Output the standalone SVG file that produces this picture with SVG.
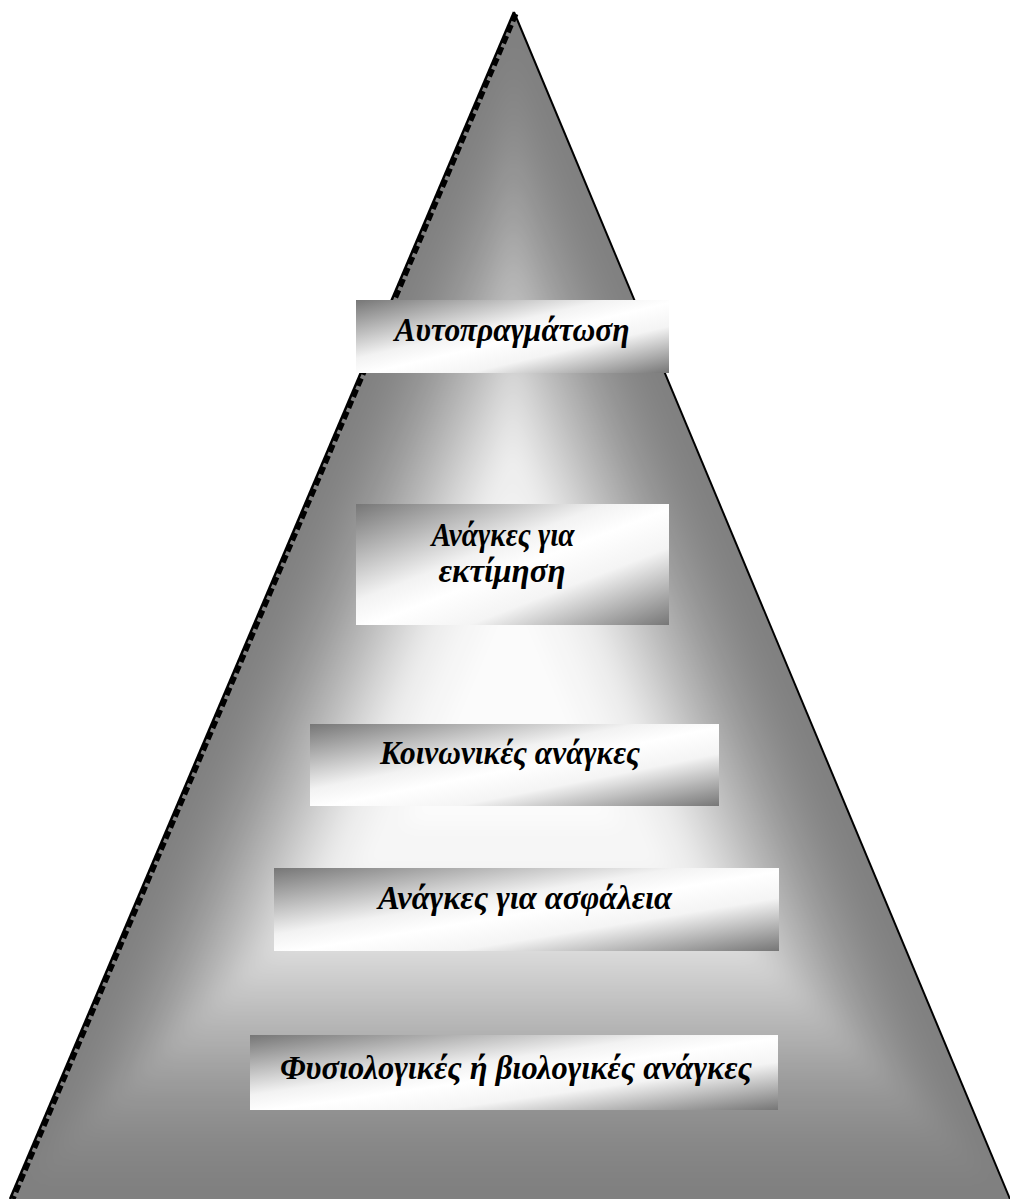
<svg xmlns="http://www.w3.org/2000/svg" xmlns:xlink="http://www.w3.org/1999/xlink" width="1010" height="1199" viewBox="0 0 1010 1199">
<style>
.lbl{font-family:"Liberation Serif","Times New Roman",serif;font-weight:bold;font-style:italic;font-size:33px;fill:#000;text-anchor:middle}
.box{fill:url(#boxGrad)}
</style>
<defs>
<path id="tri" d="M514,12 L10,1199 L1010,1199 Z"/>
<clipPath id="triClip"><use xlink:href="#tri"/></clipPath>
<filter id="soft" x="-10%" y="-10%" width="120%" height="120%"><feGaussianBlur stdDeviation="10"/></filter>
<linearGradient id="boxGrad" x1="0" y1="0" x2="1" y2="1">
<stop offset="0" stop-color="#767676"/>
<stop offset="0.4" stop-color="#f2f2f2"/>
<stop offset="0.52" stop-color="#ffffff"/>
<stop offset="0.68" stop-color="#f4f4f4"/>
<stop offset="1" stop-color="#767676"/>
</linearGradient>
</defs>
<rect width="1010" height="1199" fill="#fff"/>
<g id="pyramid">
<g clip-path="url(#triClip)">
<g filter="url(#soft)">
<rect x="-50" y="-50" width="1110" height="1300" fill="#808080"/>
<use xlink:href="#tri" fill="#848484" transform="translate(512 720) scale(0.95) translate(-512 -720)"/>
<use xlink:href="#tri" fill="#898989" transform="translate(512 720) scale(0.9) translate(-512 -720)"/>
<use xlink:href="#tri" fill="#909090" transform="translate(512 720) scale(0.85) translate(-512 -720)"/>
<use xlink:href="#tri" fill="#989898" transform="translate(512 720) scale(0.8) translate(-512 -720)"/>
<use xlink:href="#tri" fill="#a2a2a2" transform="translate(512 720) scale(0.75) translate(-512 -720)"/>
<use xlink:href="#tri" fill="#adadad" transform="translate(512 720) scale(0.7) translate(-512 -720)"/>
<use xlink:href="#tri" fill="#b8b8b8" transform="translate(512 720) scale(0.65) translate(-512 -720)"/>
<use xlink:href="#tri" fill="#c4c4c4" transform="translate(512 720) scale(0.6) translate(-512 -720)"/>
<use xlink:href="#tri" fill="#d0d0d0" transform="translate(512 720) scale(0.55) translate(-512 -720)"/>
<use xlink:href="#tri" fill="#dcdcdc" transform="translate(512 720) scale(0.5) translate(-512 -720)"/>
<use xlink:href="#tri" fill="#e6e6e6" transform="translate(512 720) scale(0.45) translate(-512 -720)"/>
<use xlink:href="#tri" fill="#efefef" transform="translate(512 720) scale(0.4) translate(-512 -720)"/>
<use xlink:href="#tri" fill="#f6f6f6" transform="translate(512 720) scale(0.32) translate(-512 -720)"/>
<use xlink:href="#tri" fill="#fbfbfb" transform="translate(512 720) scale(0.22) translate(-512 -720)"/>
</g>
</g>
<line x1="514" y1="12" x2="1010" y2="1199" stroke="#000" stroke-width="2"/>
<line x1="516" y1="14" x2="13" y2="1199" stroke="#000" stroke-width="5" stroke-dasharray="8 4"/>
<line x1="514" y1="12" x2="10" y2="1199" stroke="#000" stroke-width="2.5"/>
</g>
<g id="node-self">
<rect class="box" x="356" y="300" width="313" height="73"/>
<text class="lbl" x="512" y="341" textLength="235" lengthAdjust="spacingAndGlyphs">Αυτοπραγμάτωση</text>
</g>
<g id="node-esteem">
<rect class="box" x="356" y="504" width="313" height="121"/>
<text class="lbl" x="503" y="546" textLength="143" lengthAdjust="spacingAndGlyphs">Ανάγκες για</text>
<text class="lbl" x="502" y="582">εκτίμηση</text>
</g>
<g id="node-social">
<rect class="box" x="310" y="724" width="409" height="82"/>
<text class="lbl" x="510" y="764" textLength="260" lengthAdjust="spacingAndGlyphs">Κοινωνικές ανάγκες</text>
</g>
<g id="node-safety">
<rect class="box" x="274" y="868" width="505" height="83"/>
<text class="lbl" x="525" y="909" textLength="294" lengthAdjust="spacingAndGlyphs">Ανάγκες για ασφάλεια</text>
</g>
<g id="node-physio">
<rect class="box" x="250" y="1035" width="528" height="75"/>
<text class="lbl" x="516" y="1079" textLength="472" lengthAdjust="spacingAndGlyphs">Φυσιολογικές ή βιολογικές ανάγκες</text>
</g>
<g id="connectors"/>
</svg>
